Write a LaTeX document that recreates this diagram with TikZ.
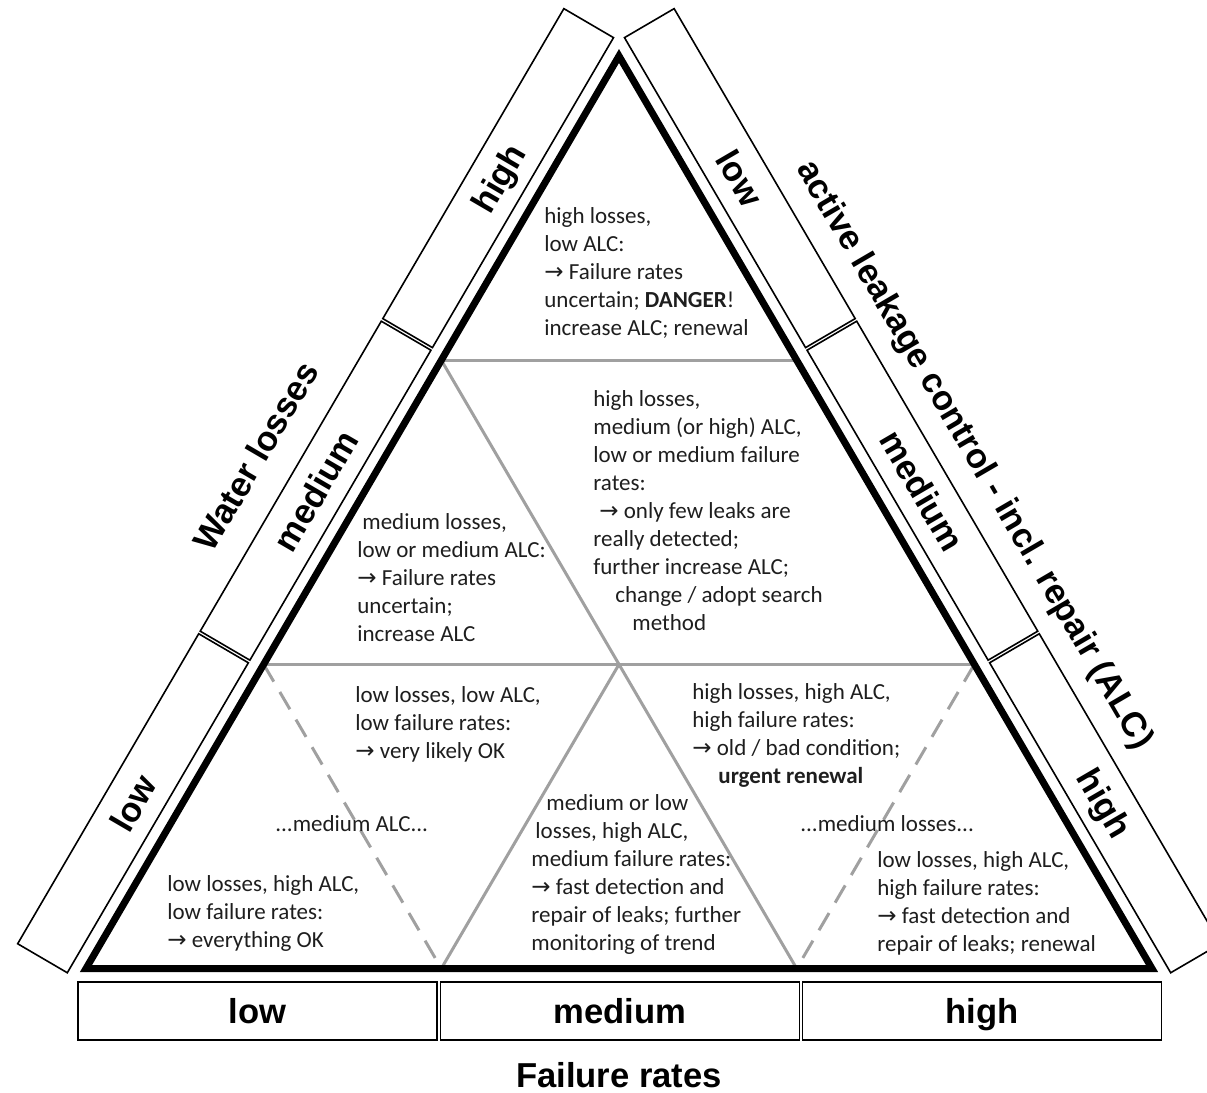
\documentclass[tikz,border=0pt]{standalone}
\usepackage{fontspec}
\setmainfont{Carlito}
\newfontfamily\labfont{Liberation Sans}
\newfontfamily\arrfont{DejaVu Sans}
\usetikzlibrary{calc}
\definecolor{gridgray}{RGB}{160,160,160}
\definecolor{txt}{RGB}{30,30,30}
\newcommand{\ar}{{\arrfont\char"2192}}
\begin{document}
\begin{tikzpicture}[x=0.5pt,y=-0.5pt,
  frame/.style={draw=black, line width=3.5pt, line join=miter},
  gridline/.style={draw=gridgray, line width=1.5pt},
  griddash/.style={gridline, dash pattern=on 10pt off 6pt},
  lbox/.style={draw, line width=0.8pt, minimum width=179.5pt, minimum height=28.75pt, inner sep=0pt,
    text height=12.4pt, text depth=0pt,
    font=\labfont\bfseries\fontsize{17.3}{20}\selectfont, transform shape},
  axislabel/.style={font=\labfont\bfseries\fontsize{17.3}{20}\selectfont, inner sep=0pt, transform shape},
  body/.style={font=\fontsize{11.5}{14}\selectfont, align=left, anchor=base west, inner sep=0pt, text=txt},
]
\useasboundingbox (0,0) rectangle (1207,1093);

% main triangle corners
\coordinate (A) at (86,968.5);
\coordinate (B) at (1152,968.5);
\coordinate (C) at (619,56);
\coordinate (L1) at ($(A)!1/3!(C)$);
\coordinate (L2) at ($(A)!2/3!(C)$);
\coordinate (R1) at ($(B)!1/3!(C)$);
\coordinate (R2) at ($(B)!2/3!(C)$);
\coordinate (B1) at ($(A)!1/3!(B)$);
\coordinate (B2) at ($(A)!2/3!(B)$);
\coordinate (M) at ($(L1)!0.5!(R1)$);

% inner grid
\draw[gridline] (L2) -- (R2);
\draw[gridline] (L1) -- (R1);
\draw[gridline] (L2) -- (B2);
\draw[gridline] (M) -- (B1);
\draw[griddash] (L1) -- (B1);
\draw[griddash] (R1) -- (B2);

\draw[frame] (A) -- (B) -- (C) -- cycle;

% left side: water losses
\begin{scope}[shift={(A)}, rotate=59.71]
  \node[lbox] (wlow) at (166.4,-42.75) {low};
  \node[lbox] (wmed) at (528.4,-42.75) {medium};
  \node[lbox] (whigh) at (890.4,-42.75) {high};
  \node[axislabel] (wtitle) at (528,-112) {Water losses};
\end{scope}

% right side: ALC
\begin{scope}[shift={(C)}, rotate=-59.71]
  \node[lbox] (alow) at (166.4,-42.75) {low};
  \node[lbox] (amed) at (528.4,-42.75) {medium};
  \node[lbox] (ahigh) at (890.4,-42.75) {high};
  \node[axislabel] (atitle) at (524,-105) {active leakage control - incl. repair (ALC)};
\end{scope}

% bottom: failure rates
\node[lbox, minimum height=29pt] (flow) at (257.5,1011) {low};
\node[lbox, minimum height=29pt] (fmed) at (620,1011) {medium};
\node[lbox, minimum height=29pt] (fhigh) at (982,1011) {high};
\node[axislabel] (ftitle) at (619,1075) {Failure rates};

% texts (anchor = baseline of the last line)
\node[body] (t1) at (544,335) {high losses,\\ low ALC:\\ \ar\ Failure rates\\ uncertain; \textbf{DANGER}!\\ increase ALC; renewal};
\node[body] (t2) at (593,630) {high losses,\\ medium (or high) ALC,\\ low or medium failure\\ rates:\\ \hspace*{3pt}\ar\ only few leaks are\\ really detected;\\ further increase ALC;\\ \hspace*{11pt}change / adopt search\\ \hspace*{19.5pt}method};
\node[body] (t3) at (357,641) {\hspace*{2.5pt}medium losses,\\ low or medium ALC:\\ \ar\ Failure rates\\ uncertain;\\ increase ALC};
\node[body] (t4) at (355,758) {low losses, low ALC,\\ low failure rates:\\ \ar\ very likely OK};
\node[body] (t5) at (275,831) {...medium ALC...};
\node[body] (t6) at (167,947) {low losses, high ALC,\\ low failure rates:\\ \ar\ everything OK};
\node[body] (t7) at (531,950) {\hspace*{7.5pt}medium or low\\ \hspace*{2pt}losses, high ALC,\\ medium failure rates:\\ \ar\ fast detection and\\ repair of leaks; further\\ monitoring of trend};
\node[body] (t8) at (692,783) {high losses, high ALC,\\ high failure rates:\\ \ar\ old / bad condition;\\ \hspace*{13pt}\textbf{urgent renewal}};
\node[body] (t9) at (800,831) {...medium losses...};
\node[body] (t10) at (877,951) {low losses, high ALC,\\ high failure rates:\\ \ar\ fast detection and\\ repair of leaks; renewal};
\end{tikzpicture}
\end{document}
